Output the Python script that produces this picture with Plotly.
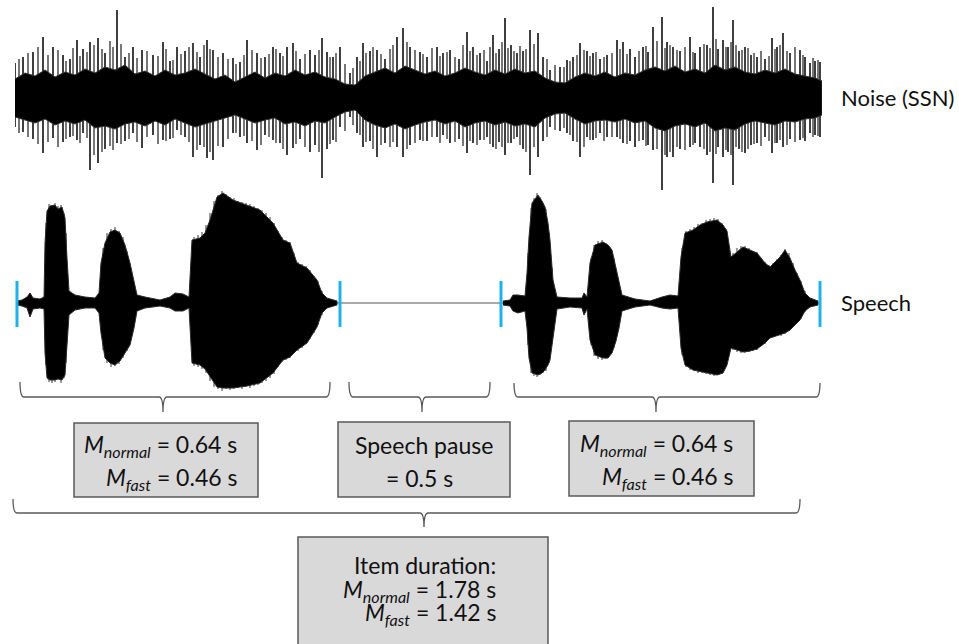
import plotly.graph_objects as go

W, H = 959, 644

# ---------------- data (time in frames, amplitude in arbitrary units) ----------------
# prominent noise peaks
noise_t = [0, 8, 18, 28, 38, 48, 55, 62, 68, 75, 83, 90, 102, 110, 118, 127, 138, 148, 155, 162,
           170, 178, 185, 192, 198, 208, 218, 225, 232, 242, 250, 258, 265, 272, 278, 285, 295, 300,
           307, 312, 318, 325, 335, 342, 348, 355, 362, 370, 382, 388, 395, 405, 412, 422, 428, 435,
           444, 452, 458, 465, 472, 478, 484, 490, 496, 502, 508, 515, 523, 528, 535, 545, 552, 558,
           565, 572, 578, 585, 592, 602, 608, 615, 620, 628, 633, 638, 647, 652, 658, 665, 675, 680,
           685, 692, 698, 703, 708, 713, 718, 724, 730, 736, 742, 750, 757, 762, 768, 775, 785, 790,
           795, 800, 805]
noise_top = [.34, .40, .45, .60, .50, .42, .38, .57, .48, .55, .59, .44, .87, .40, .50, .47, .42, .55, .36, .50,
             .46, .54, .40, .57, .47, .44, .39, .35, .57, .44, .40, .50, .44, .50, .54, .38, .47, .42,
             .59, .45, .40, .50, .24, .40, .54, .46, .47, .38, .60, .69, .50, .45, .40, .50, .44, .47,
             .38, .65, .50, .44, .36, .62, .48, .79, .52, .44, .46, .67, .64, .40, .27, .30, .37, .40,
             .54, .46, .44, .38, .42, .57, .55, .48, .40, .50, .45, .70, .80, .55, .50, .46, .60, .44,
             .50, .52, .90, .48, .57, .50, .77, .46, .50, .42, .40, .38, .59, .50, .64, .44, .47, .40,
             .34, .36, .35]
noise_bot = [.30, .35, .42, .56, .41, .45, .40, .43, .36, .73, .66, .52, .46, .44, .36, .51, .38, .43, .42, .33,
             .40, .60, .48, .61, .63, .50, .36, .40, .46, .53, .38, .43, .46, .58, .51, .42, .55, .48,
             .81, .52, .43, .30, .20, .36, .50, .44, .60, .46, .50, .60, .48, .43, .44, .40, .38, .46,
             .42, .56, .46, .43, .40, .50, .45, .58, .46, .40, .52, .78, .60, .44, .30, .34, .36, .44,
             .60, .40, .43, .36, .40, .40, .46, .44, .50, .43, .48, .53, .93, .60, .60, .52, .50, .46,
             .50, .58, .86, .50, .60, .55, .88, .52, .56, .48, .46, .40, .56, .46, .50, .42, .43, .44,
             .36, .38, .40]

# smaller noise peaks in between
noise2_t = [4, 13, 23, 33, 43, 51, 58, 65, 72, 79,
            87, 95, 98, 106, 114, 122, 132, 143, 151, 158,
            166, 174, 182, 189, 195, 203, 213, 221, 229, 237,
            246, 254, 261, 268, 281, 290, 304, 315, 321, 330,
            338, 345, 351, 358, 366, 375, 378, 392, 400, 408,
            417, 425, 432, 440, 448, 455, 462, 469, 475, 481,
            487, 493, 499, 505, 511, 519, 532, 540, 549, 555,
            562, 569, 575, 581, 589, 597, 605, 612, 624, 631,
            642, 650, 655, 662, 670, 678, 689, 695, 701, 711,
            716, 721, 727, 733, 739, 746, 754, 760, 765, 772,
            780, 788, 798, 803]
noise2_top = [.38, .44, .50, .42, .47, .36, .49, .41, .45, .52,
              .48, .56, .50, .53, .44, .39, .46, .41, .48, .37,
              .43, .50, .45, .52, .48, .40, .38, .33, .42, .47,
              .39, .43, .48, .41, .46, .43, .47, .40, .44, .33,
              .29, .36, .44, .50, .43, .48, .52, .55, .47, .43,
              .49, .41, .45, .40, .52, .46, .42, .47, .50, .44,
              .55, .49, .46, .51, .48, .53, .38, .32, .30, .36,
              .42, .47, .41, .45, .40, .44, .48, .43, .46, .51,
              .56, .49, .52, .47, .50, .45, .53, .49, .58, .50,
              .55, .52, .47, .49, .44, .46, .41, .48, .52, .46,
              .50, .42, .39, .37]
noise2_bot = [.36, .40, .47, .45, .50, .42, .39, .46, .41, .58,
              .55, .49, .53, .47, .42, .45, .40, .47, .44, .41,
              .38, .45, .53, .50, .55, .49, .42, .36, .39, .44,
              .48, .40, .46, .52, .47, .50, .55, .47, .45, .34,
              .28, .38, .45, .52, .48, .50, .45, .52, .46, .44,
              .40, .46, .42, .45, .49, .44, .48, .43, .47, .52,
              .50, .46, .42, .48, .55, .50, .40, .33, .31, .38,
              .45, .50, .43, .41, .44, .40, .42, .47, .44, .49,
              .52, .58, .55, .50, .53, .48, .52, .55, .57, .53,
              .58, .50, .55, .52, .47, .49, .44, .46, .43, .48,
              .45, .41, .40, .39]

# dense core of the noise band
noise_core_t = [0, 10, 20, 30, 40, 50, 60, 70, 80, 90, 100, 110, 120, 130, 140, 150, 160, 170, 180, 190,
                200, 210, 220, 230, 240, 250, 260, 270, 280, 290, 300, 310, 320, 330, 340, 350, 360, 370,
                380, 390, 400, 410, 420, 430, 440, 450, 460, 470, 480, 490, 500, 510, 520, 530, 540, 550,
                560, 570, 580, 590, 600, 610, 620, 630, 640, 650, 660, 670, 680, 690, 700, 710, 720, 730,
                740, 750, 760, 770, 780, 790, 800, 807]
noise_core_top = [.18, .24, .21, .27, .20, .25, .22, .28, .24, .30, .27, .32, .23, .26, .21, .27, .22, .24, .28, .23,
                  .18, .22, .15, .20, .25, .19, .24, .21, .27, .22, .25, .20, .18, .13, .12, .21, .25, .29,
                  .24, .31, .27, .23, .26, .21, .24, .29, .25, .22, .27, .23, .28, .24, .26, .19, .15, .14,
                  .20, .24, .21, .25, .20, .24, .22, .27, .30, .26, .31, .25, .28, .24, .32, .27, .30, .25,
                  .23, .27, .24, .28, .23, .21, .19, .16]
noise_core_bot = [.20, .23, .26, .22, .28, .24, .27, .23, .31, .29, .32, .27, .25, .29, .24, .28, .22, .26, .30, .27,
                  .24, .21, .18, .22, .26, .23, .21, .27, .25, .29, .24, .26, .20, .15, .13, .23, .28, .31,
                  .27, .32, .28, .25, .23, .27, .24, .30, .26, .24, .28, .25, .29, .27, .30, .21, .17, .16,
                  .22, .27, .24, .23, .25, .22, .26, .24, .31, .34, .29, .27, .30, .26, .34, .31, .33, .27,
                  .24, .26, .28, .24, .25, .22, .21, .18]

# speech utterance 1 (envelope)
sp1_t = [2, 7, 12, 15, 18, 25, 29, 30, 32, 35, 40, 43, 47, 50, 52, 54, 60, 70, 80, 84, 86, 90, 95, 100,
         105, 110, 115, 119, 122, 130, 145, 155, 160, 168, 174, 177, 185, 190, 195, 202, 208, 218, 232,
         245, 258, 268, 275, 282, 292, 302, 307, 312, 322]
sp1_top = [.02, .03, .06, .10, .05, .04, .06, .60, .92, .97, .98, .94, .96, .85, .45, .12, .08, .06, .05, .10,
           .40, .60, .71, .73, .70, .58, .40, .20, .08, .06, .03, .06, .10, .09, .06, .63, .65, .70, .83,
           1.06, 1.10, 1.03, .98, .93, .80, .63, .60, .40, .35, .23, .10, .05, .02]
sp1_bot = [.02, .03, .05, .14, .06, .05, .06, .50, .75, .77, .77, .76, .77, .72, .40, .12, .07, .05, .05, .10,
           .30, .55, .60, .62, .58, .50, .42, .25, .08, .05, .03, .05, .08, .08, .05, .60, .62, .66, .74,
           .84, .85, .85, .83, .80, .70, .57, .54, .47, .40, .24, .10, .05, .02]

# speech utterance 2 (envelope)
sp2_t = [488, 495, 498, 503, 510, 512, 514, 517, 523, 527, 530, 533, 535, 538, 542, 555, 567, 569, 572,
         575, 580, 588, 593, 597, 601, 604, 607, 620, 635, 647, 655, 663, 666, 670, 678, 685, 692, 702,
         708, 712, 716, 728, 735, 742, 750, 755, 761, 765, 770, 775, 780, 785, 790, 795, 803]
sp2_top = [.02, .03, .08, .08, .07, .30, .66, 1.00, 1.08, 1.02, .96, .80, .63, .23, .06, .05, .05, .10, .06,
           .40, .58, .61, .58, .53, .35, .20, .08, .04, .02, .06, .08, .07, .46, .70, .73, .78, .81, .83,
           .78, .72, .46, .56, .53, .50, .40, .36, .42, .46, .53, .45, .33, .23, .10, .05, .02]
sp2_bot = [.02, .03, .08, .10, .08, .25, .55, .70, .72, .70, .67, .62, .57, .35, .06, .04, .05, .12, .06,
           .37, .52, .55, .55, .50, .38, .25, .08, .04, .02, .05, .06, .05, .45, .62, .67, .69, .70, .72,
           .70, .62, .45, .49, .48, .46, .40, .35, .33, .32, .30, .27, .22, .17, .08, .04, .02]

# individual speech peaks (jagged outline)
sp_pk_t = [31, 34, 37, 40, 43, 46, 49, 51,
           88, 92, 96, 100, 104, 108, 112, 116,
           179, 183, 187, 191, 195, 199, 203, 207, 211, 215, 219, 223, 227, 231, 235, 239, 243, 247,
           251, 255, 259, 263, 267, 271, 275, 279, 283, 287, 291, 295, 299, 303, 307,
           513, 516, 519, 522, 525, 528, 531, 534, 537,
           576, 579, 583, 587, 591, 595, 599, 603,
           667, 671, 675, 679, 683, 687, 691, 695, 699, 703, 707, 711,
           718, 722, 726, 730, 734, 738, 742, 746, 750, 754, 758, 762, 766, 770, 774, 778, 782, 786, 790]
sp_pk_top = [.80, .99, .93, 1.00, .97, .98, .90, .70,
             .55, .70, .74, .76, .72, .66, .52, .34,
             .66, .68, .71, .78, .90, 1.02, 1.08, 1.12, 1.09, 1.06, 1.05, 1.02, 1.01, 1.00, .99, .97, .95, .93,
             .90, .86, .80, .72, .66, .63, .61, .50, .41, .39, .37, .33, .27, .22, .12,
             .50, .95, 1.05, 1.10, 1.06, 1.00, .94, .70, .35,
             .45, .58, .62, .63, .60, .56, .45, .24,
             .55, .72, .74, .76, .79, .80, .83, .84, .85, .84, .80, .74,
             .50, .55, .57, .57, .55, .52, .51, .45, .41, .38, .40, .44, .48, .54, .50, .40, .30, .22, .12]
sp_pk_bot = [.62, .79, .80, .79, .74, .80, .75, .60,
             .47, .60, .64, .63, .61, .55, .48, .36,
             .63, .64, .66, .70, .78, .84, .86, .88, .86, .87, .86, .85, .86, .84, .85, .83, .82, .80,
             .78, .75, .71, .64, .59, .57, .55, .50, .48, .45, .41, .36, .30, .22, .12,
             .42, .70, .73, .74, .72, .70, .68, .60, .40,
             .42, .53, .56, .57, .56, .52, .45, .28,
             .52, .64, .67, .68, .70, .70, .71, .72, .73, .72, .71, .64,
             .47, .49, .50, .50, .49, .48, .47, .43, .41, .36, .34, .33, .33, .31, .28, .24, .20, .16, .09]

boundary_t = [2, 325, 486, 805]          # blue markers: onset/offset of each utterance
speech_span = [2, 805]

seg_normal, seg_fast = 0.64, 0.46
pause_dur = 0.5
item_normal, item_fast = 1.78, 1.42

series_labels = ["Noise (SSN)", "Speech"]

# ---------------- helpers ----------------
def X(px):
    return px / W

def Y(py):
    return 1 - py / H

FONT = "Lato"
fig = go.Figure()

def spikes(ts, tops, bots, color, width, yaxis):
    sx, sy = [], []
    for t, a, b in zip(ts, tops, bots):
        sx += [t, t, None]
        sy += [a, -b, None]
    fig.add_trace(go.Scatter(x=sx, y=sy, mode="lines", line=dict(color=color, width=width),
                             xaxis="x", yaxis=yaxis, hoverinfo="skip", showlegend=False))

def envelope(ts, tops, bots, yaxis, edge):
    fig.add_trace(go.Scatter(x=ts + ts[::-1], y=tops + [-v for v in bots][::-1],
                             mode="lines", fill="toself", fillcolor="#000000",
                             line=dict(color=edge, width=1),
                             xaxis="x", yaxis=yaxis, hoverinfo="skip", showlegend=False))

# speech baseline (pause line)
fig.add_trace(go.Scatter(x=speech_span, y=[0, 0], mode="lines", line=dict(color="#8c8c8c", width=1.5),
                         xaxis="x", yaxis="y2", hoverinfo="skip", showlegend=False))

# noise
spikes(noise2_t, noise2_top, noise2_bot, "#4a4a4a", 1.5, "y")
spikes(noise_t, noise_top, noise_bot, "#1e1e1e", 1.7, "y")
envelope(noise_core_t, noise_core_top, noise_core_bot, "y", "#333333")

# speech
spikes(sp_pk_t, sp_pk_top, sp_pk_bot, "#5a5a5a", 1.2, "y2")
envelope(sp1_t, sp1_top, sp1_bot, "y2", "#2a2a2a")
envelope(sp2_t, sp2_top, sp2_bot, "y2", "#2a2a2a")

# blue boundary markers
bx, by = [], []
for t in boundary_t:
    bx += [t, t, None]
    by += [0.22, -0.24, None]
fig.add_trace(go.Scatter(x=bx, y=by, mode="lines", line=dict(color="#1eb1ea", width=3),
                         xaxis="x", yaxis="y2", hoverinfo="skip", showlegend=False))

shapes = []

def brace(x0, x1, xc, ytop, yline, ytip):
    r = 4
    p = (f"M {X(x0)},{Y(ytop)} Q {X(x0)},{Y(yline)} {X(x0 + r)},{Y(yline)} "
         f"L {X(xc - r)},{Y(yline)} Q {X(xc)},{Y(yline)} {X(xc)},{Y(ytip)} "
         f"Q {X(xc)},{Y(yline)} {X(xc + r)},{Y(yline)} "
         f"L {X(x1 - r)},{Y(yline)} Q {X(x1)},{Y(yline)} {X(x1)},{Y(ytop)}")
    shapes.append(dict(type="path", path=p, xref="paper", yref="paper",
                       line=dict(color="#595959", width=1.3)))

brace(20, 330, 163, 382, 397, 412)
brace(349, 490, 422, 382, 397, 412)
brace(514, 820, 656, 383, 397, 412)
brace(13, 800, 424, 499, 513, 527)

def box(x0, y0, x1, y1):
    shapes.append(dict(type="rect", xref="paper", yref="paper", x0=X(x0), x1=X(x1), y0=Y(y1), y1=Y(y0),
                       fillcolor="#d9d9d9", line=dict(color="#5a5a5a", width=1.5), layer="below"))

box(74, 423, 258, 497)
box(338, 422, 510, 497)
box(569, 421, 754, 496)
box(298, 537, 548, 660)

ann = []

def txt(s, x, y, xanchor="right", size=23):
    ann.append(dict(text=s, x=X(x), y=Y(y), xref="paper", yref="paper", xanchor=xanchor, yanchor="middle",
                    showarrow=False, font=dict(family=FONT, size=size, color="#111111")))

def mline(sub, v):
    return f"<i>M</i><sub><i>{sub}</i></sub> = {v:.2f} s"

txt(mline("normal", seg_normal), 239, 445)
txt(mline("fast", seg_fast), 239, 478)
txt(mline("normal", seg_normal), 735, 444)
txt(mline("fast", seg_fast), 735, 477)
txt("Speech pause", 424, 445, "center")
txt(f"= {pause_dur} s", 419, 478, "center")
txt("Item duration:", 498, 565)
txt(mline("normal", item_normal), 498, 590)
txt(mline("fast", item_fast), 498, 613)

txt(series_labels[0], 839, 97, "left", 22)
txt(series_labels[1], 839, 302, "left", 22)

fig.update_layout(
    width=W, height=H, margin=dict(l=0, r=0, t=0, b=0),
    paper_bgcolor="white", plot_bgcolor="rgba(0,0,0,0)",
    showlegend=False, shapes=shapes, annotations=ann,
    xaxis=dict(domain=[X(15), X(822)], range=[0, 807], visible=False, fixedrange=True),
    yaxis=dict(domain=[Y(194), Y(0)], range=[-0.97, 0.97], visible=False, fixedrange=True),
    yaxis2=dict(domain=[Y(423), Y(183)], range=[-1.2, 1.2], visible=False, fixedrange=True, anchor="x"),
)

fig.write_html("out.html")
